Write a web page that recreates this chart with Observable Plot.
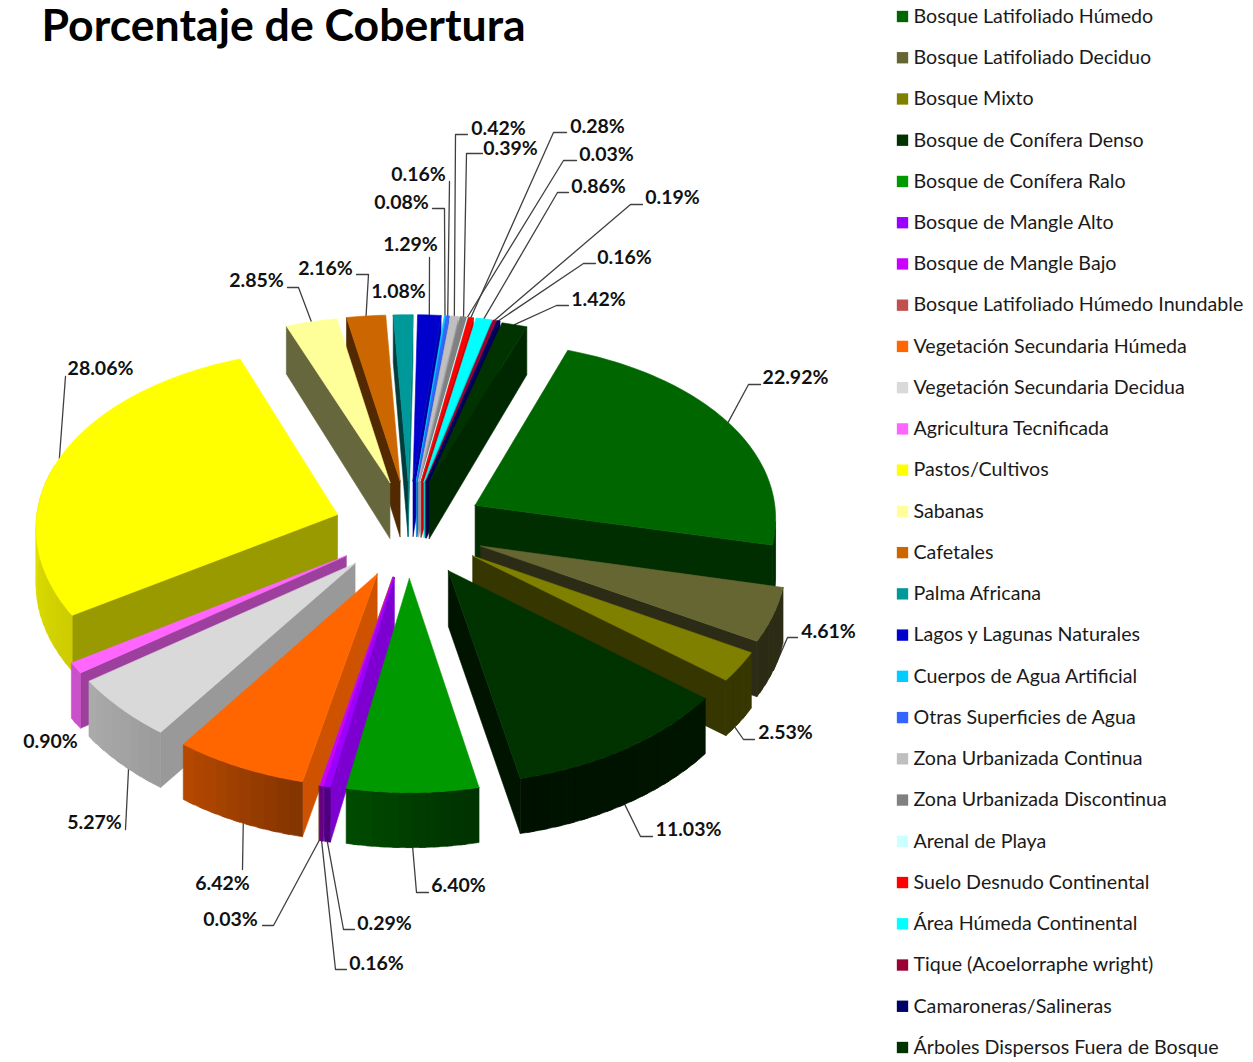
<!DOCTYPE html>
<html lang="es"><head><meta charset="utf-8">
<script src="https://cdn.jsdelivr.net/npm/d3@7"></script>
<script src="https://cdn.jsdelivr.net/npm/@observablehq/plot@0.6"></script>
<style>html,body{margin:0;background:#fff}svg{display:block}</style></head>
<body><div id="chart"></div>
<script>
const titleText = "Porcentaje de Cobertura";
const categories = ["Bosque Latifoliado Húmedo","Bosque Latifoliado Deciduo","Bosque Mixto","Bosque de Conífera Denso","Bosque de Conífera Ralo","Bosque de Mangle Alto","Bosque de Mangle Bajo","Bosque Latifoliado Húmedo Inundable","Vegetación Secundaria Húmeda","Vegetación Secundaria Decidua","Agricultura Tecnificada","Pastos/Cultivos","Sabanas","Cafetales","Palma Africana","Lagos y Lagunas Naturales","Cuerpos de Agua Artificial","Otras Superficies de Agua","Zona Urbanizada Continua","Zona Urbanizada Discontinua","Arenal de Playa","Suelo Desnudo Continental","Área Húmeda Continental","Tique (Acoelorraphe wright)","Camaroneras/Salineras","Árboles Dispersos Fuera de Bosque"];
const values = [22.92,4.61,2.53,11.03,6.40,0.29,0.16,0.03,6.42,5.27,0.90,28.06,2.85,2.16,1.08,1.29,0.08,0.16,0.42,0.39,0.03,0.28,0.86,0.19,0.16,1.42];
const colors = ["#006600","#666633","#808000","#003300","#009900","#9900ff","#cc00ff","#c0504d","#ff6600","#d9d9d9","#ff66ff","#ffff00","#ffff99","#cc6600","#009999","#0000cc","#00ccff","#3366ff","#bfbfbf","#808080","#ccffff","#ff0000","#00ffff","#990033","#000066","#003300"];

// Layout of the exploded pie and of the hand-placed data labels
const explode = values.map((v,i)=> i===11 ? 72 : 80);
const radii   = [302,303,305,309,309,309,309,309,309,309,309,302,316,316,316,316,316,316,316,316,316,316,316,316,316,313];
const nudgeX  = [0,0,0,0,3,5,5,5,5,7,8,0,6,4,4,3,3,3,3,3,2,2,2,1,1,0];
const attach  = values.map((v,i)=> i===8 ? .47 : i===9 ? .4 : i===2 ? .68 : .5);
const labelCx = [795,828,785,688,458,384,376,230,222,94,50,100,256,325,398,410,401,418,498,510,606,597,598,672,624,598];
const labelCy = [377,631,732,829,885,923,963,919,883,822,741,368,280,268,291,244,202,174,128,148,154,126,186,197,257,299];
const stubA  = [760,797,754,652,428,354,346,262,242,125,null,65,287,356,null,429,432,449,467,482,576,566,568,642,595,568];
const stubB  = [748,787,743,640,416,343,335,273,242,125,null,65,298,368,null,429,444,449,455,466,563,553,557,630,583,556];
const stubY  = [384,637,739,836,892,929,969,925,869,829,null,376,287,274,null,257,208,181,134,153,160,132,192,204,263,305];

const cx=405, cy=528, startDeg=20, gx=0.0002, ky=0.61, qy=1.77e-4;
const rad = d=>d*Math.PI/180;
const project=(px,py,h=0)=>({x:cx+px*(1+gx*py), y:cy+ky*py+qy*py*py+h});
const depth=d3.scaleLinear([-370,-76,400],[48,56,55]);
const outerShade=d3.scaleLinear([100,130,170,192,215,238,270],[.45,.42,.33,.5,.71,.8,.88]).clamp(true);
const radialShade=d3.scaleLinear([100,125,148,192,218,258],[.82,.71,.6,.45,.42,.4]).clamp(true);
const shade=(c,f)=>{const r=d3.rgb(c);return d3.rgb(r.r*f,r.g*f,r.b*f).formatHex();};
const norm=a=>((a%360)+360)%360;
const total=d3.sum(values);

let acc=0;
const slices=values.map((v,i)=>{
  const a0=startDeg+acc/total*360; acc+=v; const a1=startDeg+acc/total*360; const mid=(a0+a1)/2;
  const e=explode[i], R=radii[i];
  const ox=e*Math.sin(rad(mid))+nudgeX[i], oy=-e*Math.cos(rad(mid));
  const rim=a=>[ox+R*Math.sin(rad(a)), oy-R*Math.cos(rad(a))];
  return {i,v,a0,a1,mid,ox,oy,rim,color:colors[i],order:-Math.cos(rad(mid))};
});
const paintOrder=[...slices].sort((a,b)=>a.order-b.order);

const rows=[]; let pid=0;
const addPoly=(pts,color)=>{const id=pid++;[...pts,pts[0]].forEach(p=>rows.push({id,x:p.x,y:p.y,color}));};
const topP=([a,b])=>project(a,b);
const botP=([a,b])=>project(a,b,depth(b));
for(const s of paintOrder){
  const apex=[s.ox,s.oy];
  const wall=(a,other,normal)=>{
    const r=s.rim(a), A=topP(apex), B=topP(r), C=topP(s.rim(other));
    const lineY=A.y+(C.x-A.x)*(B.y-A.y)/(B.x-A.x);
    if(C.y>=lineY) return; // this wall faces away from the viewer
    addPoly([A,B,botP(r),botP(apex)],shade(s.color,radialShade(norm(normal))));
  };
  wall(s.a0,s.a1,s.a0-90); wall(s.a1,s.a0,s.a1+90);
  const n=Math.max(1,Math.ceil((s.a1-s.a0)/2.5));
  for(let k=0;k<n;k++){
    const a=s.a0+(s.a1-s.a0)*k/n;
    const b=s.a0+(s.a1-s.a0)*Math.min(n,k+1.5)/n; // bands overlap so no seam shows
    const c=s.a0+(s.a1-s.a0)*(k+.5)/n;
    if(norm(c)<95||norm(c)>285) continue;
    const ra=s.rim(a),rb=s.rim(b),rm=s.rim((a+b)/2);
    addPoly([topP(ra),topP(rm),topP(rb),botP(rb),botP(rm),botP(ra)],shade(s.color,outerShade(norm(c))));
  }
  const face=[topP(apex)];
  const m=Math.max(2,Math.ceil((s.a1-s.a0)/1.5));
  for(let k=0;k<=m;k++) face.push(topP(s.rim(s.a0+(s.a1-s.a0)*k/m)));
  addPoly(face,s.color);
}

const leaders=[];
slices.forEach(s=>{
  if(stubA[s.i]==null) return;
  const r=s.rim(s.a0+(s.a1-s.a0)*attach[s.i]);
  const end=r[1]>0?botP(r):topP(r);
  [{x:stubA[s.i],y:stubY[s.i]},{x:stubB[s.i],y:stubY[s.i]},end].forEach(p=>leaders.push({id:s.i,x:p.x,y:p.y}));
});

const labels=values.map((v,i)=>({text:v.toFixed(2)+"%",x:labelCx[i],y:labelCy[i]}));
const legendRows=categories.map((c,i)=>({c,color:colors[i],y:16+i*41.24}));
const font="Lato, 'Open Sans', sans-serif";

const chart=Plot.plot({
  width:1253,height:1062,margin:0,
  x:{domain:[0,1253],range:[0,1253],axis:null},
  y:{domain:[0,1062],range:[0,1062],axis:null},
  color:{type:"identity"},
  marks:[
    Plot.line(leaders,{x:"x",y:"y",z:"id",stroke:"#404040",strokeWidth:1.3,curve:"linear"}),
    Plot.line(rows,{x:"x",y:"y",z:"id",fill:"color",stroke:"color",strokeWidth:0.6,curve:"linear"}),
    Plot.text(labels,{x:"x",y:"y",text:"text",fontFamily:font,fontWeight:700,fontSize:19.5,fill:"#111"}),
    Plot.dot(legendRows,{x:()=>902,y:"y",symbol:"square",r:6.4,fill:"color",stroke:"none"}),
    Plot.text(legendRows,{x:()=>913,y:"y",text:"c",textAnchor:"start",fontFamily:font,fontSize:19.65,fill:"#1a1a1a"}),
    Plot.text([titleText],{x:()=>41,y:()=>26,text:d=>d,textAnchor:"start",fontFamily:font,fontWeight:700,fontSize:44.6,fill:"#000"})
  ]
});
document.getElementById("chart").append(chart);
</script></body></html>
